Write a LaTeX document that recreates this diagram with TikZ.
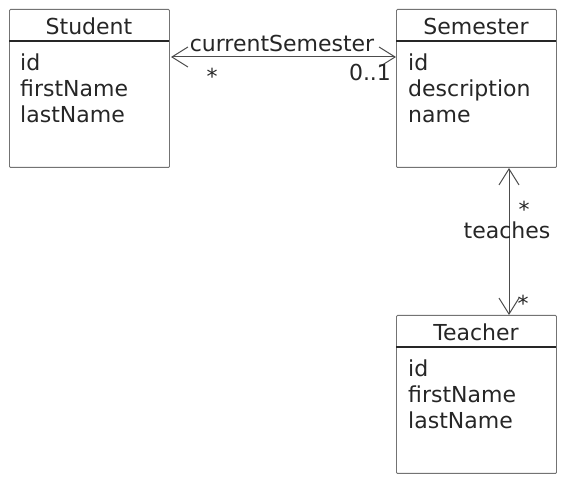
\documentclass[tikz,border=0pt]{standalone}
\usepackage{fontspec}
\setmainfont{DejaVu Sans}
\usetikzlibrary{arrows.meta}
\begin{document}
\begin{tikzpicture}[x=1pt,y=-1pt,
  box/.style={draw=black!55,line width=0.9pt,rounded corners=1pt},
  sep/.style={draw=black!85,line width=1.1pt},
  ttl/.style={font=\fontsize{22}{26}\selectfont,text=black!85,inner sep=0pt},
  attrs/.style={font=\fontsize{22}{26}\selectfont,text=black!85,inner sep=0pt,align=left,anchor=north west},
  lbl/.style={font=\fontsize{22}{26}\selectfont,text=black!85,inner sep=0pt},
  dassoc/.style={draw=black!70,line width=1pt,{Straight Barb[length=16pt,width=20pt,line width=1pt]}-{Straight Barb[length=16pt,width=20pt,line width=1pt]}}]
\useasboundingbox (0,0) rectangle (566,486);
% Student
\node[box,minimum width=160,minimum height=158,anchor=north west,inner sep=0pt] (stu) at (9,9) {};
\draw[sep] (9,41) -- (169,41);
\node[ttl] (stut) at (89,26) {Student};
\node[attrs] (stua) at (20,54) {id\\firstName\\lastName};
% Semester
\node[box,minimum width=160,minimum height=158,anchor=north west,inner sep=0pt] (sem) at (396,9) {};
\draw[sep] (396,41) -- (556,41);
\node[ttl] (semt) at (476,26) {Semester};
\node[attrs] (sema) at (408,54) {id\\description\\name};
% Teacher
\node[box,minimum width=160,minimum height=158,anchor=north west,inner sep=0pt] (tea) at (396,315) {};
\draw[sep] (396,347) -- (556,347);
\node[ttl] (teat) at (476,332) {Teacher};
\node[attrs] (teaa) at (408,360) {id\\firstName\\lastName};
% associations
\coordinate (a1) at (171,57);
\coordinate (a2) at (396,57);
\draw[dassoc] (a1) -- (a2);
\node[lbl] (cs) at (282,43) {currentSemester};
\node[lbl] (m1) at (212,76) {*};
\node[lbl] (m2) at (370,72) {0..1};
\coordinate (b1) at (509,168);
\coordinate (b2) at (509,315);
\draw[dassoc] (b1) -- (b2);
\node[lbl] (te) at (507,230) {teaches};
\node[lbl] (m3) at (524,209) {*};
\node[lbl] (m4) at (523,303) {*};
\end{tikzpicture}
\end{document}
